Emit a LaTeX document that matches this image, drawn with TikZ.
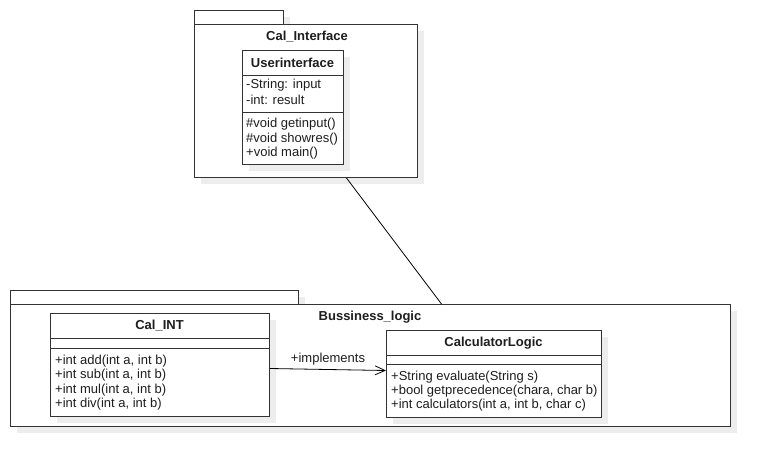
\documentclass[tikz,border=0pt]{standalone}
\usepackage{fontspec}
\setmainfont{Liberation Sans}
\usetikzlibrary{arrows.meta,calc}
\definecolor{ln}{HTML}{333333}
\definecolor{sh}{HTML}{EDEDED}
\definecolor{tx}{HTML}{1E1E1E}
\begin{document}
\begin{tikzpicture}[x=1pt,y=-1pt,
  shd/.style={fill=sh, draw=none},
  box/.style={draw=ln, line width=1pt, fill=white, inner sep=0pt, anchor=north west},
  sep/.style={draw=ln, line width=1pt},
  ttl/.style={font=\fontsize{13}{15}\selectfont\bfseries, text=tx, inner sep=0pt},
  mem/.style={font=\fontsize{13}{14.5}\selectfont, text=tx, inner sep=0pt, anchor=west},
  conn/.style={draw=black, line width=0.8pt},
]
\useasboundingbox[fill=white] (0,0) rectangle (770,466);

% ---------- Cal_Interface package ----------
\fill[shd] (201,17) rectangle (290,31);
\fill[shd] (201,31) rectangle (424,184);
\node[box, minimum width=89pt, minimum height=14pt] (citab) at (194,10) {};
\node[box, minimum width=223pt, minimum height=153pt] (ci) at (194,24) {};
\node[ttl] (cititle) at (307,37) {Cal\_Interface};

% Userinterface class
\fill[shd] (249,57) rectangle (350,171);
\node[box, minimum width=101pt, minimum height=114pt] (ui) at (242,50) {};
\draw[sep] (242,75) -- (343,75);
\draw[sep] (242,112) -- (343,112);
\node[ttl] (uititle) at (292.5,62.5) {Userinterface};
\node[mem] (ua1) at (246,85.5) {-String: input};
\node[mem] (ua2) at (246,100) {-int: result};
\node[mem] (um1) at (246,124.5) {\#void getinput()};
\node[mem] (um2) at (246,139) {\#void showres()};
\node[mem] (um3) at (246,153.5) {+void main()};

% ---------- Bussiness_logic package ----------
\fill[shd] (17,297) rectangle (305,311);
\fill[shd] (17,311) rectangle (737,433);
\node[box, minimum width=288pt, minimum height=14pt] (bltab) at (10,290) {};
\node[box, minimum width=720pt, minimum height=122pt] (bl) at (10,304) {};
\node[ttl] (bltitle) at (370,317) {Bussiness\_logic};

% Cal_INT class
\fill[shd] (57,320) rectangle (276,423);
\node[box, minimum width=219pt, minimum height=103pt] (cint) at (50,313) {};
\draw[sep] (50,338) -- (269,338);
\draw[sep] (50,348) -- (269,348);
\node[ttl] (cinttitle) at (159.5,326) {Cal\_INT};
\node[mem] (cm1) at (55,361) {+int add(int a, int b)};
\node[mem] (cm2) at (55,375.5) {+int sub(int a, int b)};
\node[mem] (cm3) at (55,390) {+int mul(int a, int b)};
\node[mem] (cm4) at (55,404.5) {+int div(int a, int b)};

% CalculatorLogic class
\fill[shd] (393,337) rectangle (608,424);
\node[box, minimum width=215pt, minimum height=87pt] (cl) at (386,330) {};
\draw[sep] (386,355) -- (601,355);
\draw[sep] (386,364) -- (601,364);
\node[ttl] (cltitle) at (493.5,343) {CalculatorLogic};
\node[mem] (lm1) at (391,377) {+String evaluate(String s)};
\node[mem] (lm2) at (391,391) {+bool getprecedence(chara, char b)};
\node[mem] (lm3) at (391,405) {+int calculators(int a, int b, char c)};

% ---------- connectors ----------
\draw[conn] ([xshift=40.5pt]ci.south) -- ([xshift=71pt]bl.north);
\draw[conn, -{Straight Barb[length=10pt,width=9pt,line width=0.8pt]}]
  ([yshift=-3.5pt]cint.east) -- node[above=4pt, font=\fontsize{13}{14.5}\selectfont, text=tx, inner sep=0pt] (impl) {+implements} ([yshift=3.5pt]cl.west);
\end{tikzpicture}
\end{document}
